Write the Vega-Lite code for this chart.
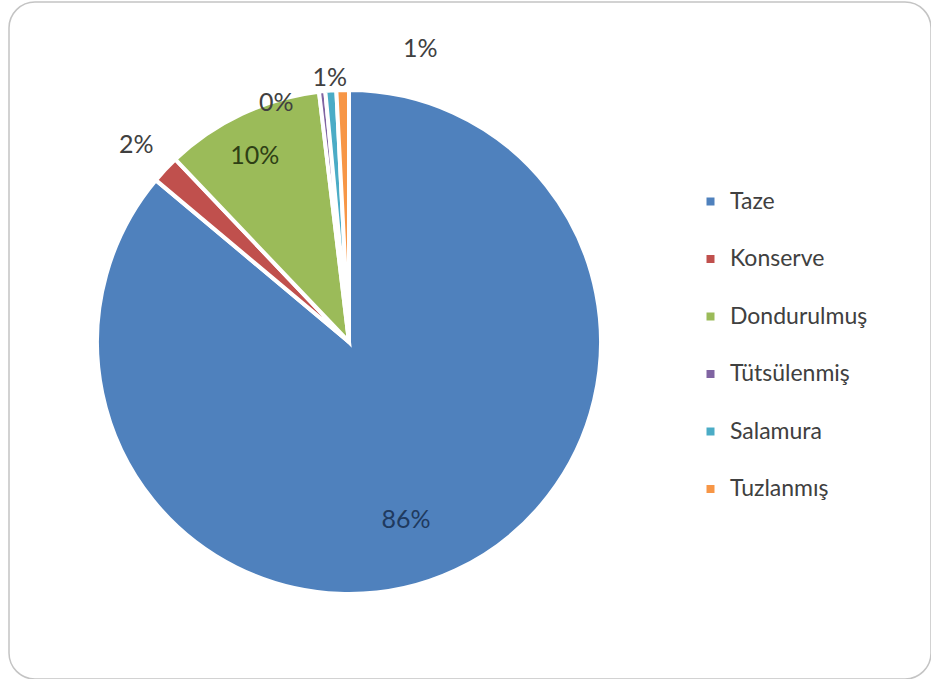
{
  "$schema": "https://vega.github.io/schema/vega-lite/v6.json",
  "width": 922,
  "height": 677,
  "autosize": {"type": "none"},
  "padding": {"left": 9, "top": 2, "right": 0, "bottom": 0},
  "background": "white",
  "config": {
    "view": {"stroke": null},
    "font": "Lato"
  },
  "data": {
    "values": [
      {"kategori": "Taze", "deger": 86.1, "etiket": "86%"},
      {"kategori": "Konserve", "deger": 1.8, "etiket": "2%"},
      {"kategori": "Dondurulmuş", "deger": 10.2, "etiket": "10%"},
      {"kategori": "Tütsülenmiş", "deger": 0.4, "etiket": "0%"},
      {"kategori": "Salamura", "deger": 0.7, "etiket": "1%"},
      {"kategori": "Tuzlanmış", "deger": 0.8, "etiket": "1%"}
    ]
  },
  "transform": [
    {"stack": "deger", "groupby": [], "as": ["t0", "t1"]},
    {"calculate": "(datum.t0 + datum.t1) / 2", "as": "orta"}
  ],
  "layer": [
    {
      "data": {"values": [{}]},
      "transform": [],
      "mark": {"type": "rect", "fill": "transparent", "stroke": "#c4c4c4", "strokeWidth": 1.5, "cornerRadius": 26},
      "encoding": {}
    },
    {
      "mark": {"type": "arc", "x": 340, "y": 340, "outerRadius": 252, "stroke": "white", "strokeWidth": 4},
      "encoding": {
        "theta": {"field": "t0", "type": "quantitative", "scale": {"domain": [0, 100]}},
        "theta2": {"field": "t1"},
        "color": {
          "field": "kategori",
          "type": "nominal",
          "sort": ["Taze", "Konserve", "Dondurulmuş", "Tütsülenmiş", "Salamura", "Tuzlanmış"],
          "scale": {
            "domain": ["Taze", "Konserve", "Dondurulmuş", "Tütsülenmiş", "Salamura", "Tuzlanmış"],
            "range": ["#4f81bd", "#c0504d", "#9bbb59", "#8064a2", "#4bacc6", "#f79646"]
          },
          "legend": {
            "title": null,
            "orient": "none",
            "legendX": 690,
            "legendY": 188,
            "symbolType": "square",
            "symbolSize": 64,
            "symbolStrokeWidth": 0,
            "labelFontSize": 23,
            "labelColor": "#404040",
            "labelFont": "Lato",
            "labelOffset": 8,
            "rowPadding": 33.5,
            "labelLimit": 300
          }
        }
      }
    },
    {
      "transform": [{"filter": "datum.kategori == 'Taze'"}],
      "mark": {"type": "text", "x": 340, "y": 340, "radius": 187, "dx": -22, "dy": 9, "fontSize": 25, "color": "#1f3a5f"},
      "encoding": {"theta": {"field": "orta", "type": "quantitative"}, "text": {"field": "etiket"}}
    },
    {
      "transform": [{"filter": "datum.kategori == 'Dondurulmuş'"}],
      "mark": {"type": "text", "x": 340, "y": 340, "radius": 205, "dx": -7, "dy": -1, "fontSize": 25, "color": "#2e3f15"},
      "encoding": {"theta": {"field": "orta", "type": "quantitative"}, "text": {"field": "etiket"}}
    },
    {
      "transform": [{"filter": "datum.kategori == 'Konserve'"}],
      "mark": {"type": "text", "x": 340, "y": 340, "radius": 292, "dy": 3, "fontSize": 25, "color": "#404040"},
      "encoding": {"theta": {"field": "orta", "type": "quantitative"}, "text": {"field": "etiket"}}
    },
    {
      "transform": [{"filter": "datum.kategori == 'Tütsülenmiş'"}],
      "mark": {"type": "text", "x": 340, "y": 340, "radius": 250, "dx": -46, "dy": 10, "fontSize": 25, "color": "#404040"},
      "encoding": {"theta": {"field": "orta", "type": "quantitative"}, "text": {"field": "etiket"}}
    },
    {
      "transform": [{"filter": "datum.kategori == 'Salamura'"}],
      "mark": {"type": "text", "x": 340, "y": 340, "radius": 265, "fontSize": 25, "color": "#404040"},
      "encoding": {"theta": {"field": "orta", "type": "quantitative"}, "text": {"field": "etiket"}}
    },
    {
      "transform": [{"filter": "datum.kategori == 'Tuzlanmış'"}],
      "mark": {"type": "text", "x": 340, "y": 340, "radius": 265, "dx": 78, "dy": -28, "fontSize": 25, "color": "#404040"},
      "encoding": {"theta": {"field": "orta", "type": "quantitative"}, "text": {"field": "etiket"}}
    }
  ]
}
